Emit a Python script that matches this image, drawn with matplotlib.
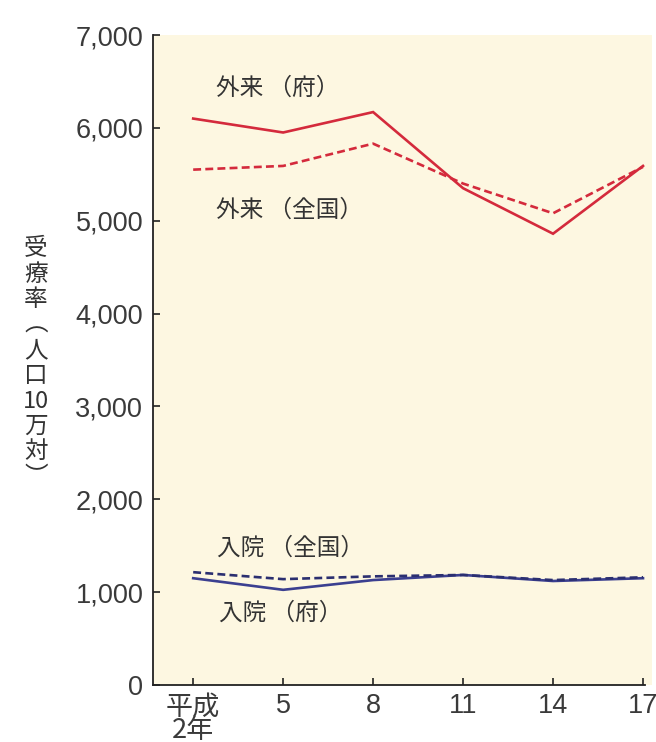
import matplotlib
matplotlib.use("Agg")
import matplotlib.pyplot as plt
from matplotlib.ticker import FuncFormatter

years = [2, 5, 8, 11, 14, 17]
xtick_labels = ["平成\n2年", "5", "8", "11", "14", "17"]
outpatient_pref = [6100, 5950, 6170, 5350, 4860, 5590]
outpatient_nat = [5550, 5590, 5830, 5400, 5080, 5580]
inpatient_nat = [1215, 1140, 1170, 1185, 1130, 1160]
inpatient_pref = [1150, 1025, 1130, 1185, 1120, 1150]
yticks = [0, 1000, 2000, 3000, 4000, 5000, 6000, 7000]

FAM = ["Liberation Sans", "Noto Sans CJK JP", "DejaVu Sans"]
JFAM = ["Noto Sans CJK JP", "DejaVu Sans"]
plt.rcParams['font.family'] = FAM

fig = plt.figure(figsize=(6.56, 7.42), dpi=100)
ax = fig.add_axes([153/656, 57/742, (652-153)/656, 650/742])
ax.set_facecolor("#fdf7e1")

red = "#d42a3c"
blue = "#3b3f90"
ax.plot(years, outpatient_pref, color=red, lw=1.9, solid_joinstyle="miter")
ax.plot(years, outpatient_nat, color=red, lw=1.9, linestyle=(0, (3, 1.6)))
ax.plot(years, inpatient_pref, color=blue, lw=1.9)
ax.plot(years, inpatient_nat, color="#2b2f70", lw=1.9, linestyle=(0, (3, 1.6)))

ax.set_xlim(0.66, 17.3)
ax.set_ylim(0, 7000)
ax.set_yticks(yticks)
ax.yaxis.set_major_formatter(FuncFormatter(lambda v, p: f"{int(v):,}"))
ax.set_xticks(years)
ax.set_xticklabels(xtick_labels)
for lbl in ax.get_xticklabels():
    if "平成" in lbl.get_text():
        lbl.set_fontsize(15)
        lbl.set_linespacing(0.85)
        lbl.set_family(JFAM)

for s in ["top", "right"]:
    ax.spines[s].set_visible(False)
for s in ["left", "bottom"]:
    ax.spines[s].set_color("#222222")
    ax.spines[s].set_linewidth(1.3)
ax.spines["bottom"].set_bounds(0.66, 17.07)

ax.tick_params(axis="both", direction="in", length=5, width=1.2, color="#222222",
               labelcolor="#3a3a3a", labelsize=19.5)
ax.tick_params(axis="y", pad=7)
ax.tick_params(axis="x", pad=6)

tc = "#333333"
ax.text(2.77, 6430, "外来 （府）", fontsize=17, color=tc, va="center", ha="left", family=JFAM)
ax.text(2.77, 5110, "外来 （全国）", fontsize=17, color=tc, va="center", ha="left", family=JFAM)
ax.text(2.8, 1475, "入院 （全国）", fontsize=17, color=tc, va="center", ha="left", family=JFAM)
ax.text(2.85, 770, "入院 （府）", fontsize=17, color=tc, va="center", ha="left", family=JFAM)

ylabel = "\n".join(["受", "療", "率", "︵", "人", "口", "10", "万", "対", "︶"])
fig.text(36/656, 1 - 363/742, ylabel, fontsize=17, color=tc, ha="center", va="center",
         linespacing=1.13, family=JFAM)

fig.savefig("out.png", dpi=100)
